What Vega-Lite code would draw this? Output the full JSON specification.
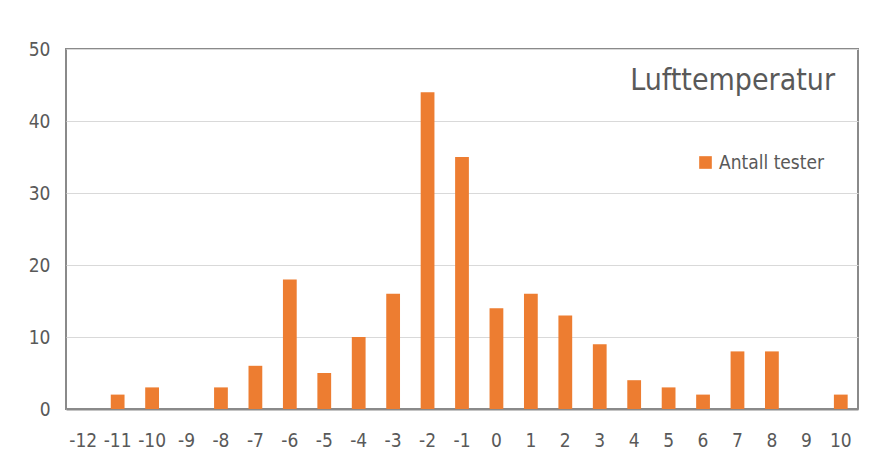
{
  "$schema": "https://vega.github.io/schema/vega-lite/v6.json",
  "width": 792,
  "height": 360,
  "autosize": {"type": "none"},
  "padding": {"left": 66, "top": 49, "right": 19, "bottom": 57},
  "background": "white",
  "title": {
    "text": "Lufttemperatur",
    "anchor": "end",
    "orient": "top",
    "offset": -56,
    "dx": -23,
    "fontSize": 30,
    "font": "DejaVu Sans Condensed, Open Sans, sans-serif",
    "fontWeight": "normal",
    "color": "#595959"
  },
  "data": {
    "values": [
      {"temp": "-12", "antall": 0},
      {"temp": "-11", "antall": 2},
      {"temp": "-10", "antall": 3},
      {"temp": "-9", "antall": 0},
      {"temp": "-8", "antall": 3},
      {"temp": "-7", "antall": 6},
      {"temp": "-6", "antall": 18},
      {"temp": "-5", "antall": 5},
      {"temp": "-4", "antall": 10},
      {"temp": "-3", "antall": 16},
      {"temp": "-2", "antall": 44},
      {"temp": "-1", "antall": 35},
      {"temp": "0", "antall": 14},
      {"temp": "1", "antall": 16},
      {"temp": "2", "antall": 13},
      {"temp": "3", "antall": 9},
      {"temp": "4", "antall": 4},
      {"temp": "5", "antall": 3},
      {"temp": "6", "antall": 2},
      {"temp": "7", "antall": 8},
      {"temp": "8", "antall": 8},
      {"temp": "9", "antall": 0},
      {"temp": "10", "antall": 2}
    ]
  },
  "mark": {"type": "bar", "color": "#ED7D31"},
  "encoding": {
    "x": {
      "field": "temp",
      "type": "ordinal",
      "sort": null,
      "scale": {"paddingInner": 0.6, "paddingOuter": 0.3},
      "axis": {
        "title": null,
        "labelAngle": 0,
        "labelFontSize": 19,
        "labelFont": "DejaVu Sans Condensed, Open Sans, sans-serif",
        "labelColor": "#595959",
        "labelPadding": 22,
        "ticks": false,
        "domainColor": "#8a8a8a",
        "domainWidth": 2
      }
    },
    "y": {
      "field": "antall",
      "type": "quantitative",
      "scale": {"domain": [0, 50]},
      "axis": {
        "title": null,
        "values": [0, 10, 20, 30, 40, 50],
        "labelFontSize": 19,
        "labelFont": "DejaVu Sans Condensed, Open Sans, sans-serif",
        "labelColor": "#595959",
        "labelPadding": 16,
        "ticks": false,
        "domain": false,
        "grid": true,
        "gridColor": "#d9d9d9",
        "gridWidth": 1
      }
    },
    "fill": {
      "datum": "Antall tester",
      "type": "nominal",
      "scale": {"range": ["#ED7D31"]},
      "legend": {
        "title": null,
        "orient": "none",
        "legendX": 630,
        "legendY": 104,
        "symbolType": "square",
        "symbolSize": 160,
        "symbolStrokeWidth": 0,
        "labelFontSize": 19,
        "labelFont": "DejaVu Sans Condensed, Open Sans, sans-serif",
        "labelColor": "#595959",
        "labelOffset": 4
      }
    }
  },
  "config": {
    "view": {"stroke": "#8a8a8a", "strokeWidth": 2}
  }
}
